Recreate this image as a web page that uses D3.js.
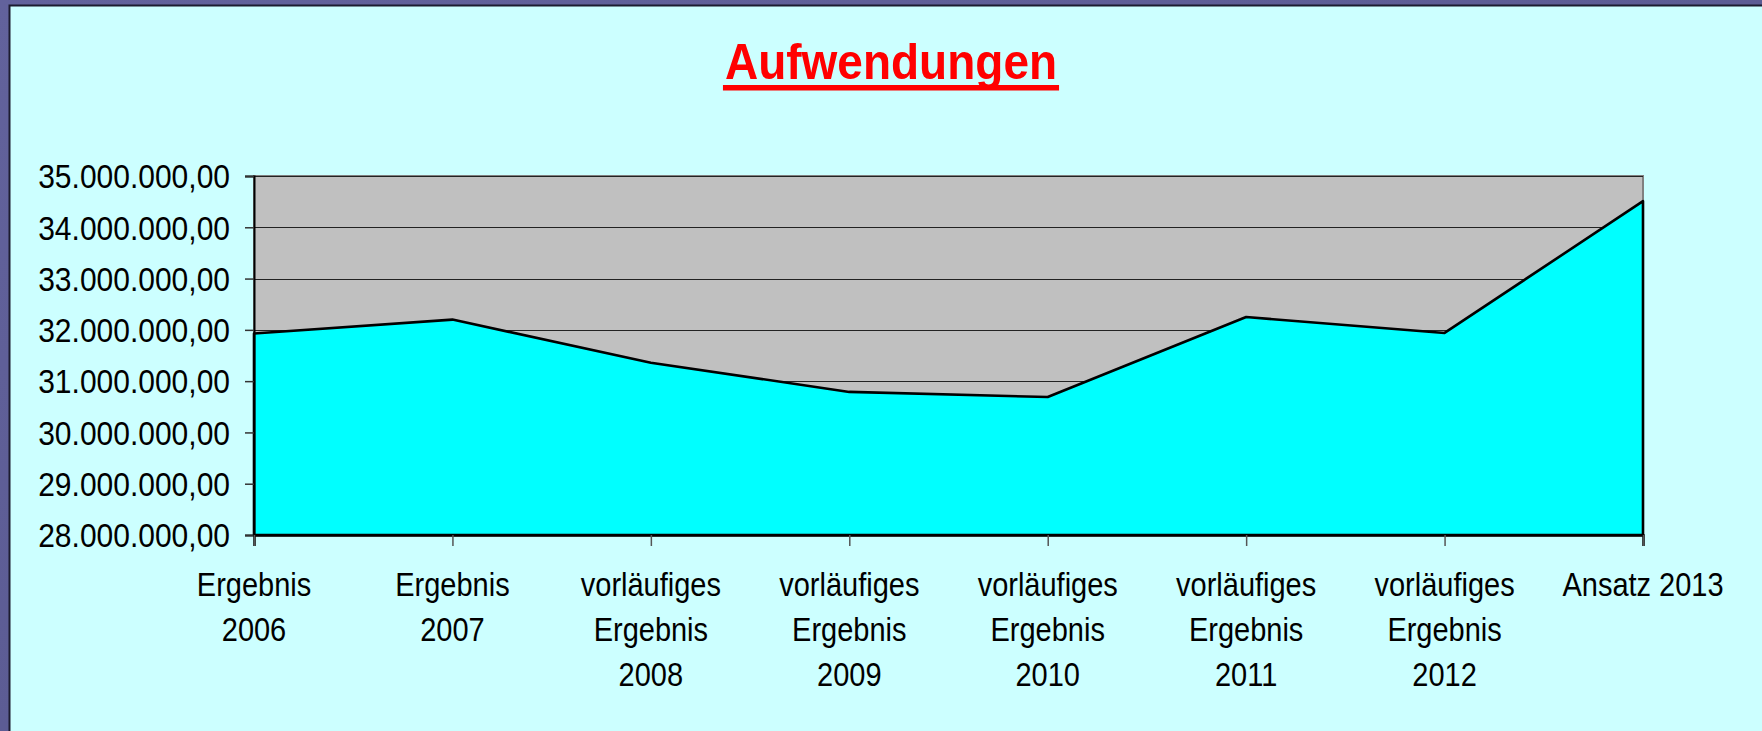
<!DOCTYPE html>
<html><head><meta charset="utf-8">
<script src="https://cdn.jsdelivr.net/npm/d3@7/dist/d3.min.js"></script>
<style>
html,body{margin:0;padding:0;background:#5d5d93;overflow:hidden;}
svg{display:block;}
</style></head>
<body>
<svg id="c" width="1762" height="731"></svg>
<script>
const categories = [
  ["Ergebnis","2006"],
  ["Ergebnis","2007"],
  ["vorläufiges","Ergebnis","2008"],
  ["vorläufiges","Ergebnis","2009"],
  ["vorläufiges","Ergebnis","2010"],
  ["vorläufiges","Ergebnis","2011"],
  ["vorläufiges","Ergebnis","2012"],
  ["Ansatz 2013"]
];
const values = [31930000, 32200000, 31360000, 30790000, 30690000, 32250000, 31940000, 34510000];
const yTicks = [28000000, 29000000, 30000000, 31000000, 32000000, 33000000, 34000000, 35000000];
const title = "Aufwendungen";

const svg = d3.select("#c");
const W = 1762, H = 731;
const FONT = "'Liberation Sans', Arial, sans-serif";

// background gradient
const defs = svg.append("defs");
const bg = defs.append("linearGradient").attr("id","bg").attr("x1",0).attr("y1",0).attr("x2",1).attr("y2",1);
bg.append("stop").attr("offset","0%").attr("stop-color","#62629c");
bg.append("stop").attr("offset","50%").attr("stop-color","#5c5c94");
bg.append("stop").attr("offset","100%").attr("stop-color","#4e4e78");
svg.append("rect").attr("width",W).attr("height",H).attr("fill","url(#bg)");

// chart panel
svg.append("rect").attr("x",9.5).attr("y",5.5).attr("width",W).attr("height",H)
  .attr("fill","#ccffff").attr("stroke","#1c1c30").attr("stroke-width",2);

const L = 254, R = 1643, T = 176, B = 535;

const x = d3.scalePoint().domain(d3.range(categories.length)).range([L, R]);
const y = d3.scaleLinear().domain([28000000, 35000000]).range([B, T]);

const fmt = v => {
  const s = d3.format(",.2f")(v);
  return s.replace(/,/g,"#").replace(/\./g,",").replace(/#/g,".");
};

// plot area
svg.append("rect").attr("x",L).attr("y",T).attr("width",R-L).attr("height",B-T)
  .attr("fill","#c0c0c0").attr("stroke","#808080").attr("stroke-width",2);

// gridlines
svg.append("g").selectAll("line").data(yTicks.slice(1)).join("line")
  .attr("x1",L).attr("x2",R).attr("y1",d=>Math.round(y(d))+0.5).attr("y2",d=>Math.round(y(d))+0.5)
  .attr("stroke","#222").attr("stroke-width",1.2);

// area
const area = d3.area().x((d,i)=>x(i)).y0(B).y1(d=>y(d));
svg.append("path").datum(values).attr("d", area)
  .attr("fill","#00ffff").attr("stroke","#000").attr("stroke-width",2.6).attr("stroke-linejoin","round");

// axes
const yAxis = d3.axisLeft(y).tickValues(yTicks).tickSize(9).tickFormat(fmt).tickPadding(15);
const gy = svg.append("g").attr("transform",`translate(${L},0)`).call(yAxis);
gy.select(".domain").attr("stroke","#000").attr("stroke-width",2);
gy.selectAll(".tick line").attr("stroke","#333").attr("stroke-width",1.5);
gy.selectAll(".tick text").attr("font-family",FONT)
  .attr("font-size",30).attr("fill","#000").attr("dy","0.35em")
  .attr("transform","scale(1,1.12)");

const xAxis = d3.axisBottom(x).tickSize(11).tickFormat("");
const gx = svg.append("g").attr("transform",`translate(0,${B})`).call(xAxis);
gx.select(".domain").attr("stroke","#000").attr("stroke-width",2.5);
gx.selectAll(".tick line").attr("stroke","#555").attr("stroke-width",1.5);

// x labels
const SY = 1.14;
const lab = svg.append("g").attr("font-family",FONT)
  .attr("font-size",29).attr("fill","#000").attr("text-anchor","middle");
categories.forEach((lines,i)=>{
  const g = lab.append("g").attr("transform",`translate(${x(i)},596) scale(1,${SY})`);
  const t = g.append("text");
  lines.forEach((ln,j)=>{
    t.append("tspan").attr("x",0).attr("y",j*45/SY).text(ln);
  });
});

// title
const tx = 891;
const tg = svg.append("g").attr("transform",`translate(${tx},79) scale(1,1.1)`);
const tt = tg.append("text").attr("x",0).attr("y",0).attr("text-anchor","middle")
  .attr("font-family",FONT).attr("font-weight","bold")
  .attr("font-size",46).attr("fill","#ff0000").text(title);
const bb = tt.node().getBBox();
svg.append("rect").attr("x",tx+bb.x-2).attr("y",85).attr("width",bb.width+4).attr("height",5.5).attr("fill","#ff0000");
</script>
</body></html>
